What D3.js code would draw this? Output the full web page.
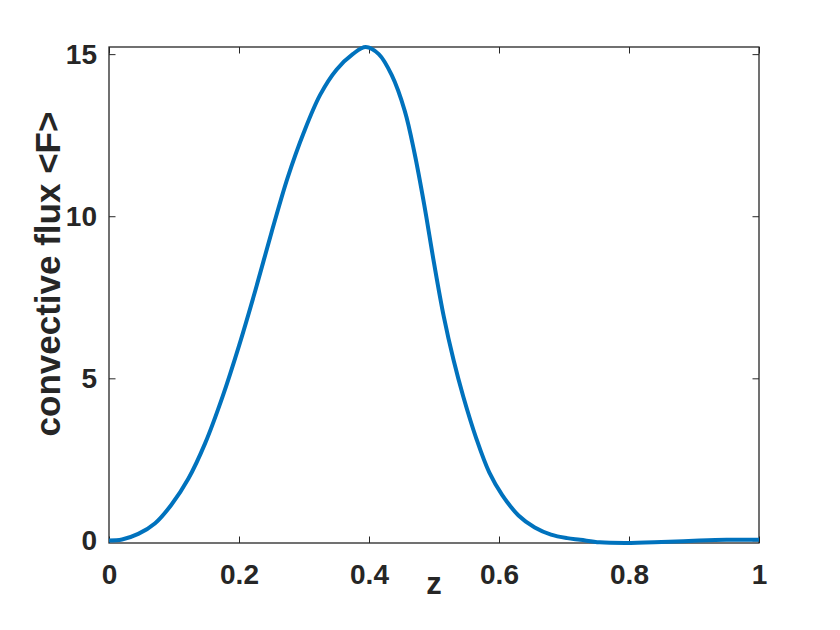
<!DOCTYPE html>
<html>
<head>
<meta charset="utf-8">
<script src="https://cdn.jsdelivr.net/npm/d3@7"></script>
<style>
  body { margin: 0; background: #fff; }
  svg text { font-family: "Liberation Sans", Arial, sans-serif; font-weight: bold; fill: #262626; }
</style>
</head>
<body>
<svg id="chart"></svg>
<script>
var width = 840;
var height = 630;

// convective flux profile
var zVals = [0, 0.02, 0.045, 0.071, 0.096, 0.122, 0.148, 0.175, 0.2, 0.225, 0.25, 0.275,
  0.3, 0.325, 0.35, 0.375, 0.395, 0.415, 0.435, 0.455, 0.47, 0.485, 0.5, 0.515,
  0.53, 0.545, 0.565, 0.585, 0.605, 0.63, 0.655, 0.68, 0.705, 0.725, 0.755, 0.795,
  0.85, 0.9, 0.95, 1];
var fluxVals = [0, 0.03, 0.2, 0.53, 1.1, 1.9, 3.0, 4.45, 6.0, 7.7, 9.5, 11.2,
  12.6, 13.75, 14.52, 15.0, 15.22, 15.0, 14.35, 13.25, 11.95, 10.35, 8.56, 6.91,
  5.57, 4.44, 3.15, 2.1, 1.4, 0.77, 0.4, 0.18, 0.07, 0.02, -0.06, -0.08,
  -0.05, -0.01, 0.02, 0.02];

var xTicks = [0, 0.2, 0.4, 0.6, 0.8, 1];
var yTicks = [0, 5, 10, 15];
var xLabel = "z";
var yLabel = "convective flux <F>";

var margin = {left: 109, top: 47, right: 840 - 759, bottom: 630 - 543};
var plotW = width - margin.left - margin.right;
var plotH = height - margin.top - margin.bottom;

var svg = d3.select('#chart')
    .attr('width', width)
    .attr('height', height);

var x = d3.scaleLinear()
    .domain([0, 1])
    .range([0, plotW]);

var y = d3.scaleLinear()
    .domain([d3.min(fluxVals), d3.max(fluxVals)])
    .range([plotH, 0]);

var g = svg.append('g')
    .attr('transform', 'translate(' + margin.left + ',' + margin.top + ')');

var tickLen = 6.5;

// ticks pointing inward on all four sides
var axisColor = '#262626';
function styleAxis(sel) {
  sel.select('.domain').remove();
  sel.selectAll('.tick line').attr('stroke', axisColor).attr('stroke-width', 1);
  sel.selectAll('.tick text')
      .style('font-size', '28px');
}

g.append('g')
    .attr('transform', 'translate(0,' + plotH + ')')
    .call(d3.axisBottom(x).tickValues(xTicks).tickSizeInner(-tickLen).tickPadding(21)
      .tickFormat(d3.format('')))
    .call(styleAxis);

g.append('g')
    .call(d3.axisTop(x).tickValues(xTicks).tickSizeInner(-tickLen).tickFormat(''))
    .call(styleAxis);

g.append('g')
    .call(d3.axisLeft(y).tickValues(yTicks).tickSizeInner(-tickLen).tickPadding(12))
    .call(styleAxis);

g.append('g')
    .attr('transform', 'translate(' + plotW + ',0)')
    .call(d3.axisRight(y).tickValues(yTicks).tickSizeInner(-tickLen).tickFormat(''))
    .call(styleAxis);

g.append('rect')
    .attr('x', 0)
    .attr('y', 0)
    .attr('width', plotW)
    .attr('height', plotH)
    .attr('fill', 'none')
    .attr('stroke', axisColor)
    .attr('stroke-width', 1.3);

var pts = zVals.map(function(z, i) { return [z, fluxVals[i]]; });

var line = d3.line()
    .x(function(d) { return x(d[0]); })
    .y(function(d) { return y(d[1]); })
    .curve(d3.curveCatmullRom.alpha(0.5));

g.append('path')
    .datum(pts)
    .attr('d', line)
    .attr('fill', 'none')
    .attr('stroke', '#0072BD')
    .attr('stroke-width', 4)
    .attr('stroke-linejoin', 'round');

svg.append('text')
    .attr('x', margin.left + plotW / 2)
    .attr('y', 594)
    .attr('text-anchor', 'middle')
    .style('font-size', '31px')
    .text(xLabel);

svg.append('text')
    .attr('transform', 'translate(60,274) rotate(-90)')
    .attr('text-anchor', 'middle')
    .style('font-size', '35px')
    .text(yLabel);
</script>
</body>
</html>
